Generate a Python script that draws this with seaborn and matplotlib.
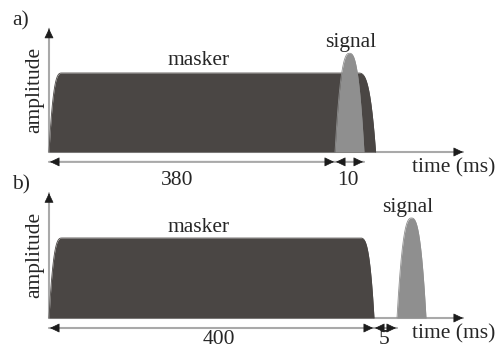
import numpy as np
import matplotlib
matplotlib.use("Agg")
import matplotlib.pyplot as plt
import seaborn as sns

# ---- stimulus parameters (ms, amplitude relative to masker level) ----
panel_tags = ["a)", "b)"]
masker_off_ms = [394, 400]
masker_rise_ms = [17, 16]
masker_fall_ms = [6, 17]
signal_on_ms = [380, 405]
signal_dur_ms = [10, 10]
signal_peak = [1.25, 1.25]

W, H, DPI = 496, 349, 100

sns.set_theme(style="white")
plt.rcParams["font.family"] = ["Liberation Serif", "DejaVu Serif"]

MASKER = "#4a4644"
SIGNAL = "#8f8f8f"
LINE = "#a9a9a9"
HEAD = "#1c1c1c"
TEXT = "#262626"
FS = 15.5


def masker_env(t, off, rise, fall):
    up = 1 - (1 - np.clip(t / rise, 0, 1)) ** 3
    down = 1 - np.clip((t - (off - fall)) / fall, 0, 1) ** 3
    return np.where((t >= 0) & (t <= off), np.minimum(up, down), 0.0)


def signal_env(t, on, dur, peak):
    x = (t - on) / dur * 2 - 1
    return np.where(np.abs(x) <= 1, peak * (1 - np.abs(x) ** 2.6), 0.0)


def piecewise_scale(ms, px):
    ms = np.asarray(ms, float)
    px = np.asarray(px, float)
    return (lambda v: np.interp(v, ms, px)), (lambda v: np.interp(v, px, ms))


def gray_line(ax, p0, p1, c0="data", c1="data"):
    ax.annotate("", xy=p1, xycoords=c1, xytext=p0, textcoords=c0,
                arrowprops=dict(arrowstyle="-", color=LINE, lw=1.5,
                                shrinkA=0, shrinkB=0), zorder=1)


def head(ax, p, direction, coords="data", gap=0.0):
    off = {"right": (-6, 0), "left": (6, 0), "up": (0, -6)}[direction]
    ax.annotate("", xy=p, xycoords=coords, xytext=off, textcoords="offset points",
                arrowprops=dict(arrowstyle="-|>,head_length=0.5,head_width=0.24",
                                mutation_scale=12, color=HEAD, lw=0.5,
                                shrinkA=0, shrinkB=gap), zorder=5)


def px_text(fig, x, y, s, ha="center", va="baseline", **kw):
    fig.text(x / W, 1 - y / H, s, ha=ha, va=va, fontsize=FS, color=TEXT, **kw)


fig = plt.figure(figsize=(W / DPI, H / DPI), dpi=DPI)

# panel layout in pixels: rows, baseline, unit amplitude height
rows = [(0, 175), (175, 349)]
baseline_px = [152, 318]
unit_px = [79, 80]

# schematic time axes (not to scale around the signal)
scales = [
    piecewise_scale([-1000, 0, signal_on_ms[0], 2000],
                    [49 - 1000 * 0.7526, 49, 335, 335 + (2000 - signal_on_ms[0]) * 2.9]),
    piecewise_scale([-1000, 0, masker_off_ms[1], signal_on_ms[1], 2000],
                    [49 - 1000 * 0.8125, 49, 374, 397, 397 + (2000 - signal_on_ms[1]) * 2.9]),
]

spans = [
    [(0, signal_on_ms[0]), (signal_on_ms[0], signal_on_ms[0] + signal_dur_ms[0])],
    [(0, masker_off_ms[1]), (masker_off_ms[1], signal_on_ms[1])],
]
span_text_px = [[(177, 185), (348, 185)], [(219, 344), (384, 344)]]
tag_px = [(12, 25), (12, 189)]
amp_px = [(35, 90), (35, 255)]
masker_px = [(199, 65), (199, 232)]
signal_px = [(351, 47), (408, 212)]
time_px = [(412, 172), (412, 338)]

for i in range(2):
    r0, r1 = rows[i]
    ax = fig.add_axes([0, 1 - r1 / H, 1, (r1 - r0) / H])
    fwd, inv = scales[i]
    ax.set_xscale("function", functions=(fwd, inv))
    ax.set_xlim(inv(0), inv(W))
    pb, u = baseline_px[i], unit_px[i]
    ax.set_ylim((pb - r1) / u, (pb - r0) / u)
    ax.axis("off")

    # masker envelope
    tm = np.linspace(0, masker_off_ms[i], 2000)
    em = masker_env(tm, masker_off_ms[i], masker_rise_ms[i], masker_fall_ms[i])
    ax.fill_between(tm, 0, em, color=MASKER, lw=0, zorder=2)
    sns.lineplot(x=tm, y=em, ax=ax, color=MASKER, lw=0.6, estimator=None, zorder=2)

    # signal envelope
    ts = np.linspace(signal_on_ms[i], signal_on_ms[i] + signal_dur_ms[i], 400)
    es = signal_env(ts, signal_on_ms[i], signal_dur_ms[i], signal_peak[i])
    ax.fill_between(ts, 0, es, color=SIGNAL, lw=0, zorder=3)
    sns.lineplot(x=ts, y=es, ax=ax, color=SIGNAL, lw=0.6, estimator=None, zorder=3)

    # amplitude axis
    gray_line(ax, (0, 0), (0, 1.56))
    head(ax, (0, 1.56), "up")
    # time axis
    gray_line(ax, (0, 0), (463 / W, 0), c1=("axes fraction", "data"))
    head(ax, (463 / W, 0), "right", coords=("axes fraction", "data"))

    # dimension arrows with duration labels
    yd = -0.125
    for (t0, t1), (tx, ty) in zip(spans[i], span_text_px[i]):
        gray_line(ax, (t0, yd), (t1, yd))
        head(ax, (t0, yd), "left", gap=0.7)
        head(ax, (t1, yd), "right", gap=0.7)
        px_text(fig, tx, ty, f"{t1 - t0:g}")

    px_text(fig, *tag_px[i], panel_tags[i], ha="left")
    px_text(fig, *amp_px[i], "amplitude", va="center", rotation=90)
    px_text(fig, *masker_px[i], "masker")
    px_text(fig, *signal_px[i], "signal")
    px_text(fig, *time_px[i], "time (ms)", ha="left")

fig.savefig("out.png", dpi=DPI, facecolor="white")
